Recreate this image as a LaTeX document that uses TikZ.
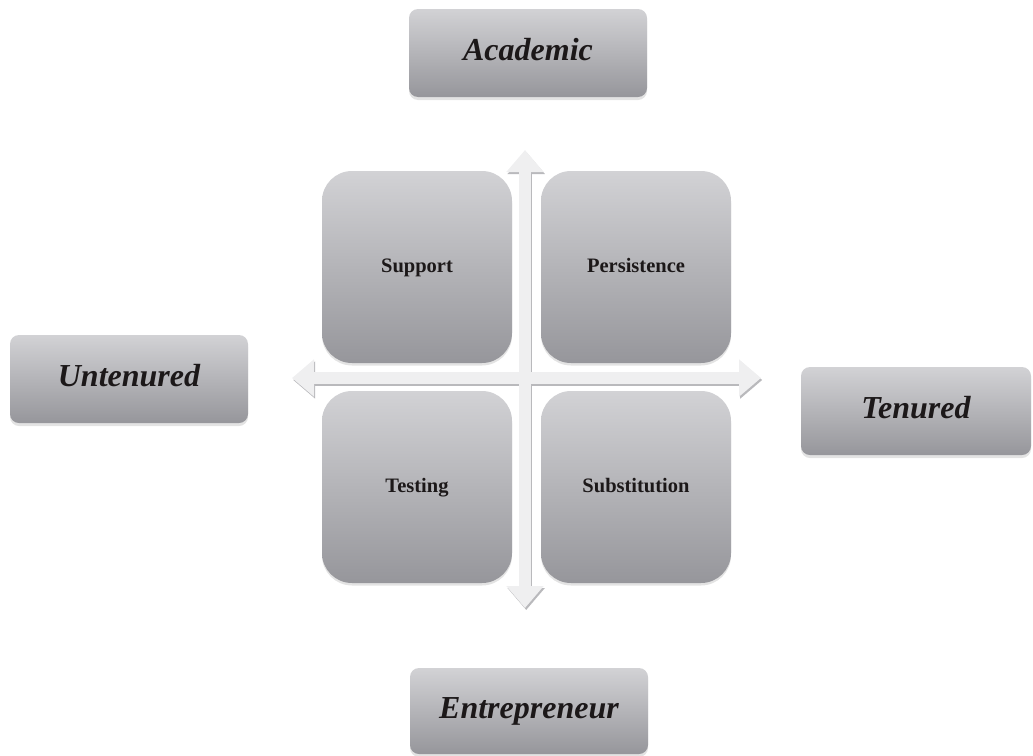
\documentclass[tikz,border=0pt]{standalone}
\usepackage{fontspec}
\setmainfont{Liberation Serif}
\usetikzlibrary{arrows.meta,shadows}
\definecolor{boxtop}{RGB}{210,210,213}
\definecolor{boxbot}{RGB}{150,150,155}
\definecolor{axisfill}{RGB}{239,239,240}
\definecolor{axisedge}{RGB}{185,185,188}
\definecolor{labeltext}{RGB}{28,24,25}

\begin{document}
\begin{tikzpicture}[
	x=1pt, y=-1pt,
	quad/.style={rectangle, rounded corners=30pt, top color=boxtop, bottom color=boxbot,
		minimum width=190pt, minimum height=192pt, inner sep=0pt, text=labeltext,
		text height=14pt, text depth=4pt,
		font=\fontsize{20.5}{24}\selectfont\bfseries,
		drop shadow={shadow xshift=0pt, shadow yshift=-2.5pt, opacity=.22}},
	pole/.style={rectangle, rounded corners=9pt, top color=boxtop, bottom color=boxbot,
		minimum width=238pt, minimum height=88pt, inner sep=0pt, text=labeltext,
		text height=22pt, text depth=7pt,
		font=\fontsize{32}{38}\selectfont\bfseries\itshape,
		drop shadow={shadow xshift=0pt, shadow yshift=-3pt, opacity=.22}},
	axis/.style={line width=12pt, draw=axisfill,
		{Triangle[length=22pt,width=36pt]}-{Triangle[length=22pt,width=36pt]}},
	axisshade/.style={axis, draw=axisedge, transform canvas={xshift=1.2pt,yshift=-2pt}}
	]
	
	\useasboundingbox (0,0) rectangle (1033,755);
	
	%-----------------------
	% Grid positions
	%-----------------------
	\def\xleft{417}    % left column of quadrants
	\def\xright{636}   % right column of quadrants
	\def\ytop{267}     % upper row of quadrants
	\def\ybot{487}     % lower row of quadrants
	
	%-----------------------
	% Axes (drawn first, boxes on top)
	%-----------------------
	\coordinate (axN) at (525,150);
	\coordinate (axS) at (525,608);
	\coordinate (axW) at (292,378);
	\coordinate (axE) at (761,378);
	
	\draw[axisshade] (axN) -- (axS);
	\draw[axisshade] (axW) -- (axE);
	\draw[axis] (axN) -- (axS);
	\draw[axis] (axW) -- (axE);
	
	%-----------------------
	% Quadrants
	%-----------------------
	\node[quad] (support)  at (\xleft,\ytop)  {Support};
	\node[quad] (persist)  at (\xright,\ytop) {Persistence};
	\node[quad] (testing)  at (\xleft,\ybot)  {Testing};
	\node[quad] (subst)    at (\xright,\ybot) {Substitution};
	
	%-----------------------
	% Poles of the axes
	%-----------------------
	\node[pole] (academic) at (528,53)  {Academic};
	\node[pole] (untenured) at (129,379) {Untenured};
	\node[pole, minimum width=230pt] (tenured) at (916,411) {Tenured};
	\node[pole, minimum height=86pt] (entre) at (529,711) {Entrepreneur};
	
\end{tikzpicture}
\end{document}
